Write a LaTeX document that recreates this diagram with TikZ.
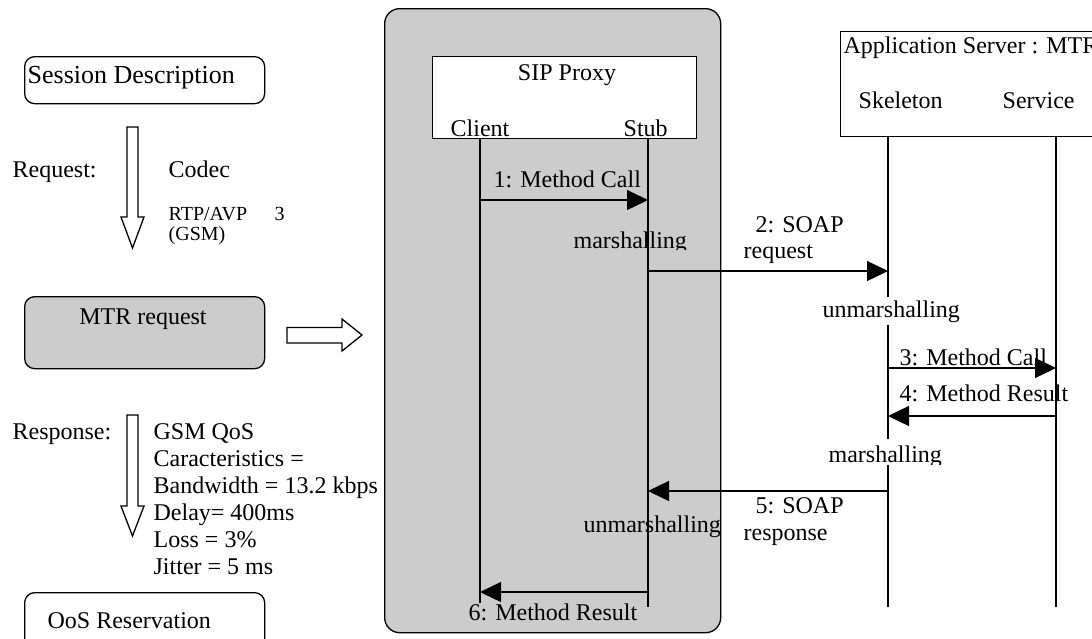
\documentclass[tikz,border=0pt]{standalone}
\usepackage{fontspec}
\setmainfont{Liberation Serif}
\usetikzlibrary{arrows.meta}
\definecolor{boxgray}{HTML}{CCCCCC}
\begin{document}
\begin{tikzpicture}[x=1pt,y=-1pt,line width=1.3pt,
  txt/.style={anchor=base west,inner sep=0pt,font=\fontsize{24}{24}\selectfont},
  small/.style={anchor=base west,inner sep=0pt,font=\fontsize{20}{20}\selectfont},
  msg/.style={-{Triangle[length=21pt,width=20pt]}},
  rbox/.style={draw,rounded corners=10pt,anchor=north west,inner sep=0pt},
  sqbox/.style={draw,fill=white,anchor=north west,inner sep=0pt},
  blockarrow/.style={draw,fill=white,line width=1.3pt}]
\useasboundingbox (0,0) rectangle (1092,638);

% ---------- left column ----------
\node[rbox,minimum width=240pt,minimum height=47pt] (sd) at (24,56) {};
\node[anchor=base west,inner sep=0pt,font=\fontsize{26}{26}\selectfont] (sdt) at (27,83) {Session Description};

\draw[blockarrow] (127,127) -- (138,127) -- (138,217) -- (144,217) -- (132.5,248) -- (121,217) -- (127,217) -- cycle;
\node[txt] (req) at (12,177) {Request:};
\node[txt] (codec) at (168,177) {Codec};
\node[small] (rtp) at (168,220) {RTP/AVP};
\node[small] (three) at (274,220) {3};
\node[small] (gsm) at (168,240) {(GSM)};

\node[rbox,fill=boxgray,minimum width=240pt,minimum height=72pt] (mtr) at (24,296) {};
\node[txt,anchor=base] (mtrt) at (143,324) {MTR request};

\draw[blockarrow] (287,327.5) -- (342,327.5) -- (342,319) -- (362,335) -- (342,351) -- (342,343) -- (287,343) -- cycle;

\draw[blockarrow] (127,415) -- (138,415) -- (138,506) -- (144,506) -- (132.5,536) -- (121,506) -- (127,506) -- cycle;
\node[txt] (resp) at (12,439) {Response:};
\node[txt] (q1) at (153,439) {GSM QoS};
\node[txt] (q2) at (153,466) {Caracteristics =};
\node[txt] (q3) at (153,493) {Bandwidth = 13.2 kbps};
\node[txt] (q4) at (153,520) {Delay= 400ms};
\node[txt] (q5) at (153,547) {Loss = 3\%};
\node[txt] (q6) at (153,574) {Jitter = 5 ms};

\node[rbox,minimum width=240pt,minimum height=60pt] (oos) at (24,592) {};
\node[txt] (oost) at (47,628) {OoS Reservation};

% ---------- SIP proxy ----------
\node[draw,fill=boxgray,rounded corners=15pt,anchor=north west,inner sep=0pt,minimum width=336pt,minimum height=624pt] (proxy) at (384,8) {};
\node[sqbox,minimum width=264pt,minimum height=82pt] (sip) at (432,56) {};
\node[txt,anchor=base] (sipt) at (567,80) {SIP Proxy};
\node[txt] (client) at (450,136) {Client};
\node[txt] (stub) at (623,136) {Stub};

\coordinate (cl0) at (480,138);
\coordinate (cl1) at (480,603);
\coordinate (st0) at (648,138);
\coordinate (st1) at (648,607);
\draw (cl0) -- (cl1);
\draw (st0) -- (st1);

% ---------- application server ----------
\node[sqbox,minimum width=270pt,minimum height=105pt] (app) at (840,31) {};
\node[txt] (appt) at (843,53) {Application Server : MTR};
\node[txt] (skel) at (858,108) {Skeleton};
\node[txt] (serv) at (1002,108) {Service};

\coordinate (sk0) at (888,136);
\coordinate (sk1) at (888,607);
\coordinate (sv0) at (1056,136);
\coordinate (sv1) at (1056,607);
\draw (sk0) -- (sk1);
\draw (sv0) -- (sv1);

% ---------- messages ----------
\coordinate (m1a) at (cl0 |- 0,200);
\coordinate (m1b) at (st0 |- 0,200);
\draw[msg] (m1a) -- (m1b);
\node[txt] (m1t) at (493,187) {1: Method Call};

\begin{scope}
  \clip (560,220) rectangle (700,249);
  \node[txt] (mar1) at (573,248) {marshalling};
\end{scope}

\coordinate (m2a) at (st0 |- 0,271);
\coordinate (m2b) at (sk0 |- 0,271);
\draw[msg] (m2a) -- (m2b);
\node[txt] (m2t) at (755,232) {2: SOAP};
\node[txt] (m2u) at (743,258) {request};

\node[txt,fill=white,inner ysep=3pt,inner xsep=0pt] (unm1) at (822,317) {unmarshalling};

\coordinate (m3a) at (sk0 |- 0,368);
\coordinate (m3b) at (sv0 |- 0,368);
\draw[msg] (m3a) -- (m3b);
\node[txt] (m3t) at (899,365) {3: Method Call};

\coordinate (m4a) at (sv0 |- 0,416);
\coordinate (m4b) at (sk0 |- 0,416);
\draw[msg] (m4a) -- (m4b);
\node[txt] (m4t) at (899,401) {4: Method Result};

\begin{scope}
  \clip (815,430) rectangle (960,464);
  \node[txt,fill=white,inner ysep=6pt,inner xsep=0pt] (mar2) at (828,462) {marshalling};
\end{scope}

\coordinate (m5a) at (sk0 |- 0,491);
\coordinate (m5b) at (st0 |- 0,491);
\draw[msg] (m5a) -- (m5b);
\node[txt] (m5t) at (755,513) {5: SOAP};
\node[txt] (m5u) at (743,540) {response};

\node[txt] (unm2) at (583,532) {unmarshalling};

\coordinate (m6a) at (st0 |- 0,592);
\coordinate (m6b) at (cl0 |- 0,592);
\draw[msg] (m6a) -- (m6b);
\node[txt] (m6t) at (468,620) {6: Method Result};
\end{tikzpicture}
\end{document}
